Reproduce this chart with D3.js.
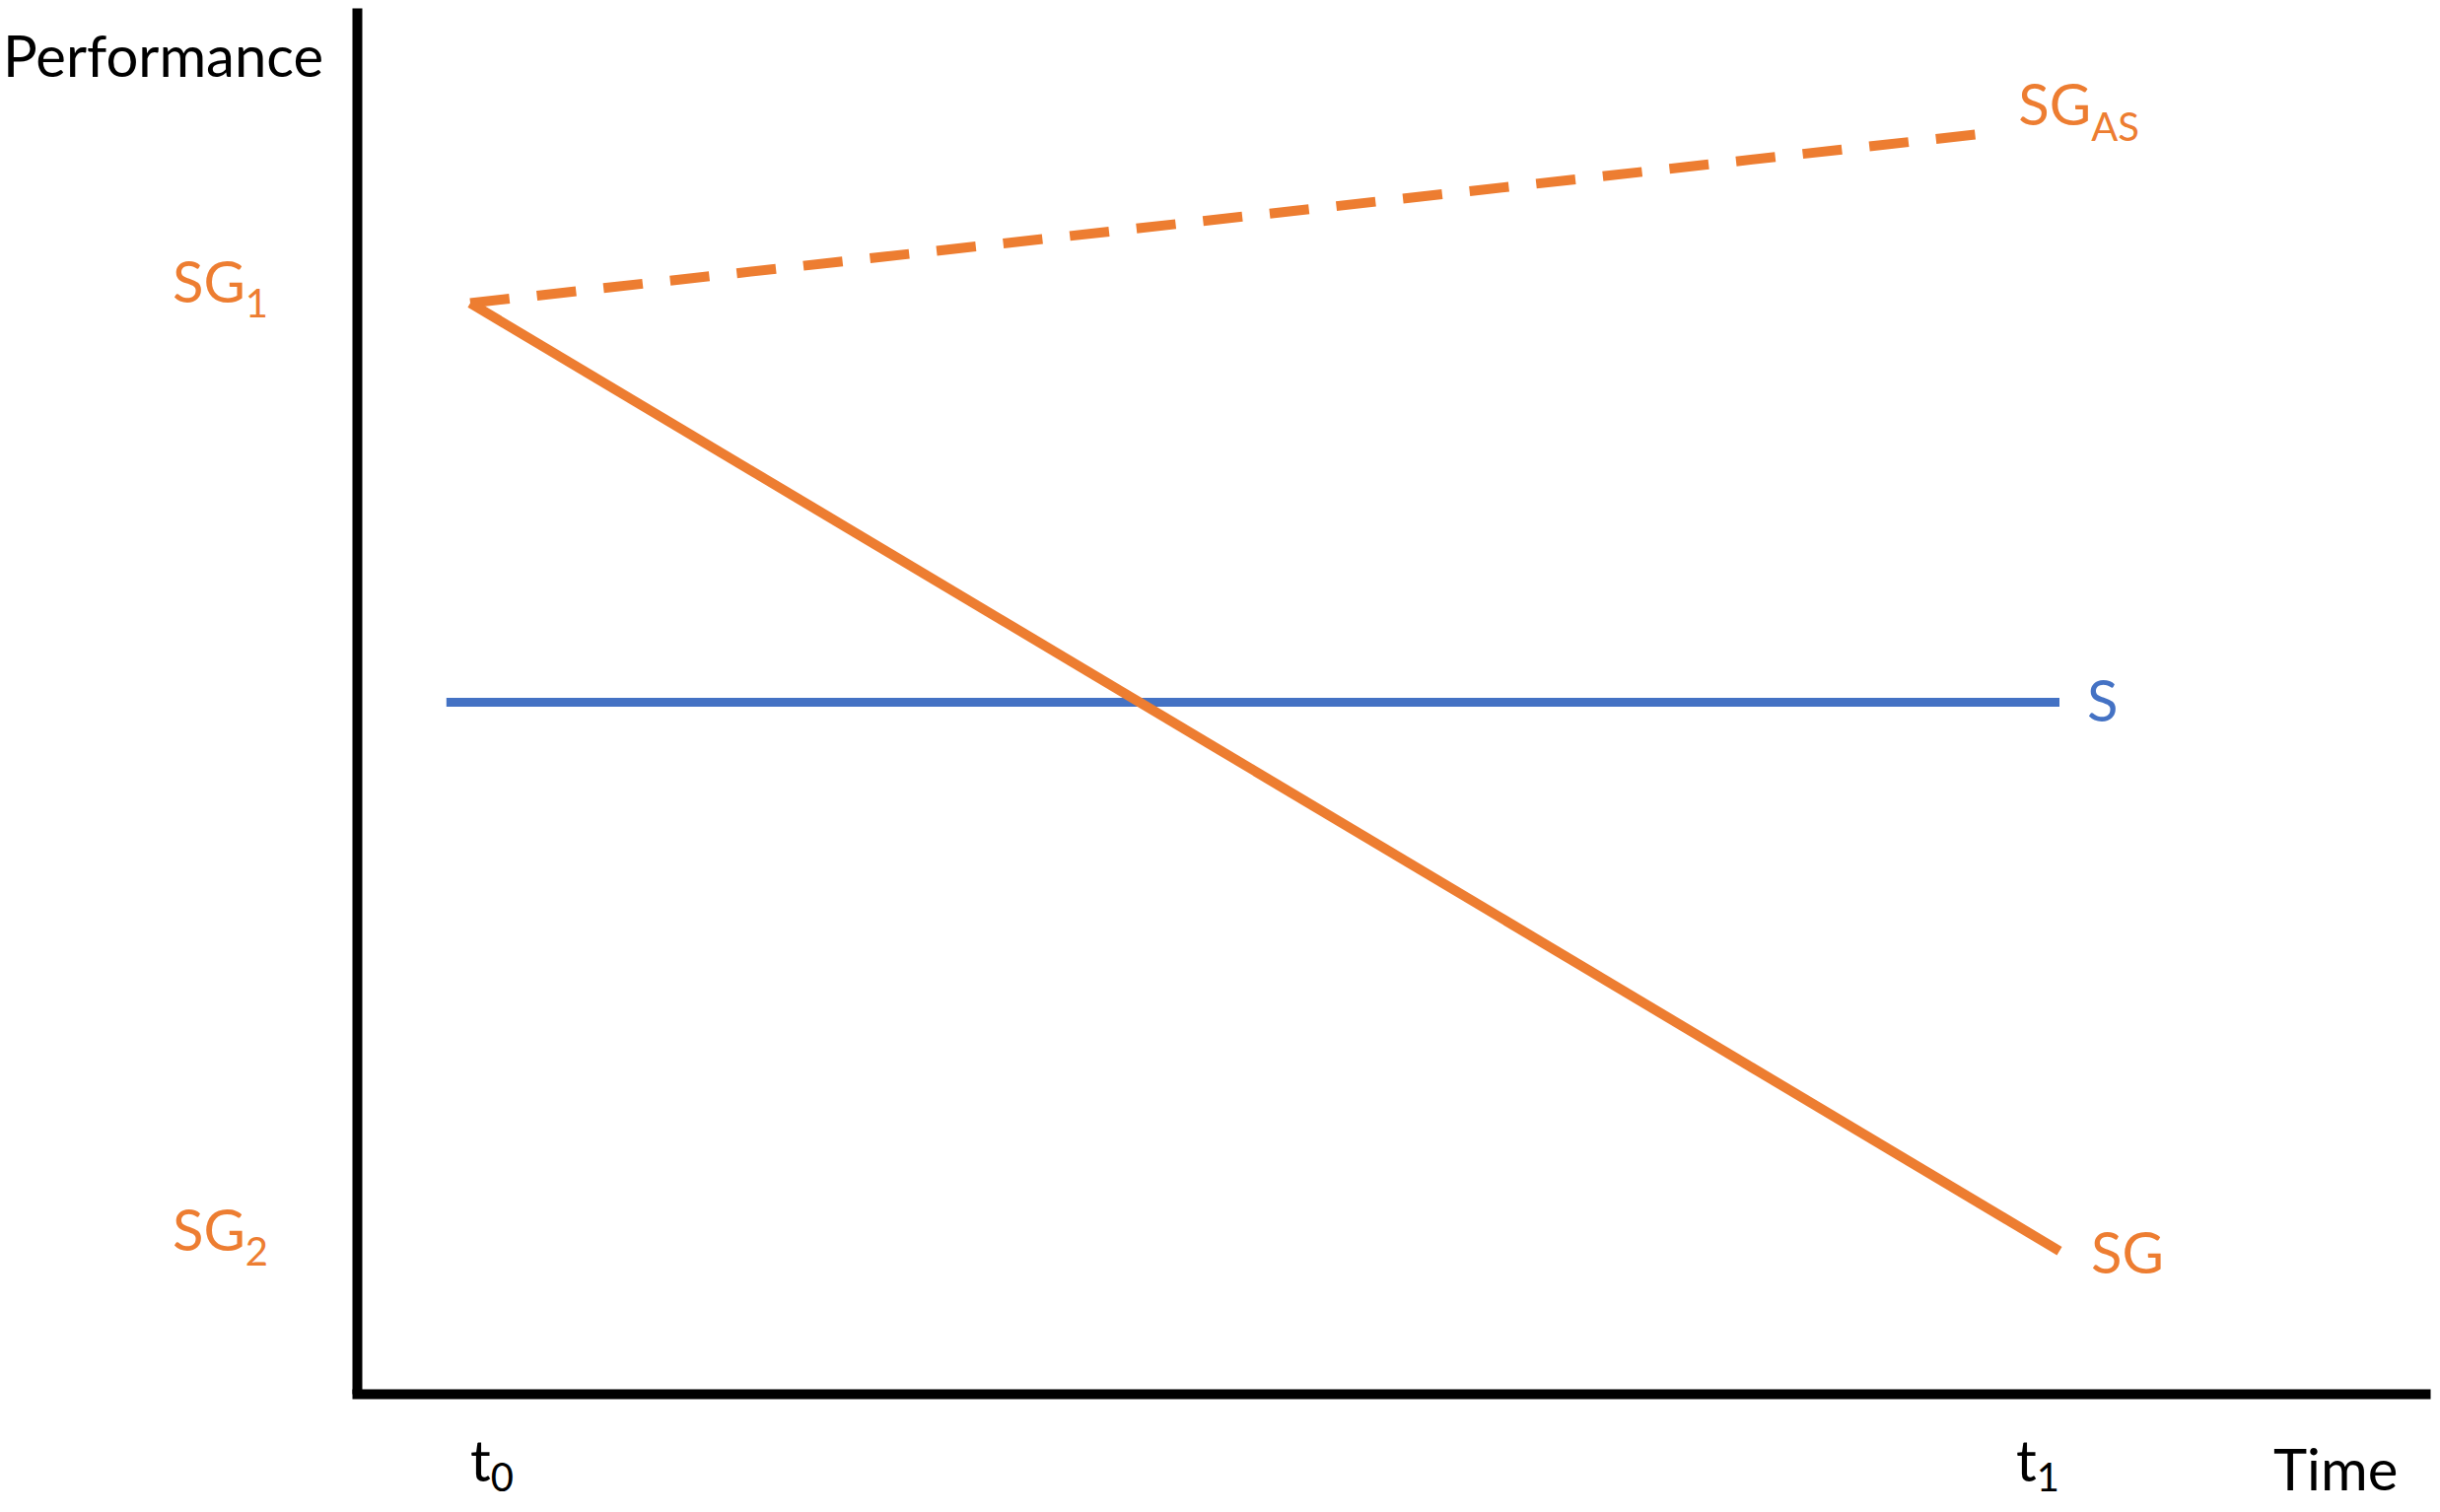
<!DOCTYPE html>
<html>
<head>
<meta charset="utf-8">
<script src="https://cdn.jsdelivr.net/npm/d3@7"></script>
<style>
  html, body { margin: 0; padding: 0; background: #fff; }
  svg text { font-family: Lato, "Open Sans", sans-serif; }
</style>
</head>
<body>
<div id="chart"></div>
<script>
var chart_width = 2475;
var chart_height = 1534;

var orange = '#ED7D31';
var blue = '#4472C4';

// time points (t0 = 0, t1 = 1) and performance levels
var sg_t = [0, 1];
var sg_perf = [78.7, 10.3];
var sgas_t = [0, 0.958];
var sgas_perf = [78.7, 91.0];
var s_t = [-0.015, 1];
var s_perf = [49.9, 49.9];

var perf_labels = [{main: 'SG', sub: '1', v: 78.7}, {main: 'SG', sub: '2', v: 10.3}];
var time_labels = [{main: 't', sub: '0', t: 0, anchor: 'start'}, {main: 't', sub: '1', t: 1, anchor: 'end'}];

var x = d3.scaleLinear().domain([0, 1]).range([477, 2089]);
var y = d3.scaleLinear().domain([0, 100]).range([1414, 8]);

var svg = d3.select('#chart')
            .append('svg')
            .attr('width', chart_width)
            .attr('height', chart_height);

var line = d3.line()
             .x(function(d){ return x(d[0]); })
             .y(function(d){ return y(d[1]); });

var zip = function(a, b){
  return a.map(function(v, i){ return [v, b[i]]; });
};

//Axes: bare lines, no ticks
var xAxisScale = x.copy().domain([x.invert(357), x.invert(2465)]).range([357, 2465]);
svg.append('g')
   .attr('transform', 'translate(0,' + y(0) + ')')
   .call(d3.axisBottom(xAxisScale).tickValues([]).tickSizeOuter(0))
   .select('.domain')
   .attr('stroke', '#000')
   .attr('stroke-width', 10);

svg.append('g')
   .attr('transform', 'translate(362,0)')
   .call(d3.axisLeft(y).tickValues([]).tickSizeOuter(0))
   .select('.domain')
   .attr('stroke', '#000')
   .attr('stroke-width', 10);

//Series
svg.append('path')
   .attr('d', line(zip(s_t, s_perf)))
   .attr('fill', 'none')
   .attr('stroke', blue)
   .attr('stroke-width', 9);

svg.append('path')
   .attr('d', line(zip(sgas_t, sgas_perf)))
   .attr('fill', 'none')
   .attr('stroke', orange)
   .attr('stroke-width', 10)
   .attr('stroke-dasharray', '40,28');

svg.append('path')
   .attr('d', line(zip(sg_t, sg_perf)))
   .attr('fill', 'none')
   .attr('stroke', orange)
   .attr('stroke-width', 10)
   .attr('stroke-linejoin', 'miter');

//Text
var addLabel = function(xp, yp, main, sub, color, anchor, dy){
  var t = svg.append('text')
             .attr('x', xp)
             .attr('y', yp)
             .attr('fill', color)
             .attr('font-size', 58)
             .attr('text-anchor', anchor);
  t.append('tspan').text(main);
  if (sub){
    t.append('tspan')
     .attr('font-size', 40)
     .attr('dy', dy)
     .text(sub);
  }
  return t;
};

addLabel(3, 78, 'Performance', null, '#000', 'start');
addLabel(2306, 1512, 'Time', null, '#000', 'start');

perf_labels.forEach(function(d){
  addLabel(272, y(d.v), d.main, d.sub, orange, 'end', 15);
});

time_labels.forEach(function(d){
  addLabel(x(d.t), 1503, d.main, d.sub, '#000', d.anchor, 10);
});

addLabel(x(sgas_t[1]) + 26, 127, 'SG', 'AS', orange, 'start', 16);
addLabel(x(s_t[1]) + 28, y(s_perf[1]) + 20, 'S', null, blue, 'start');
addLabel(x(sg_t[1]) + 32, 1292, 'SG', null, orange, 'start');
</script>
</body>
</html>
